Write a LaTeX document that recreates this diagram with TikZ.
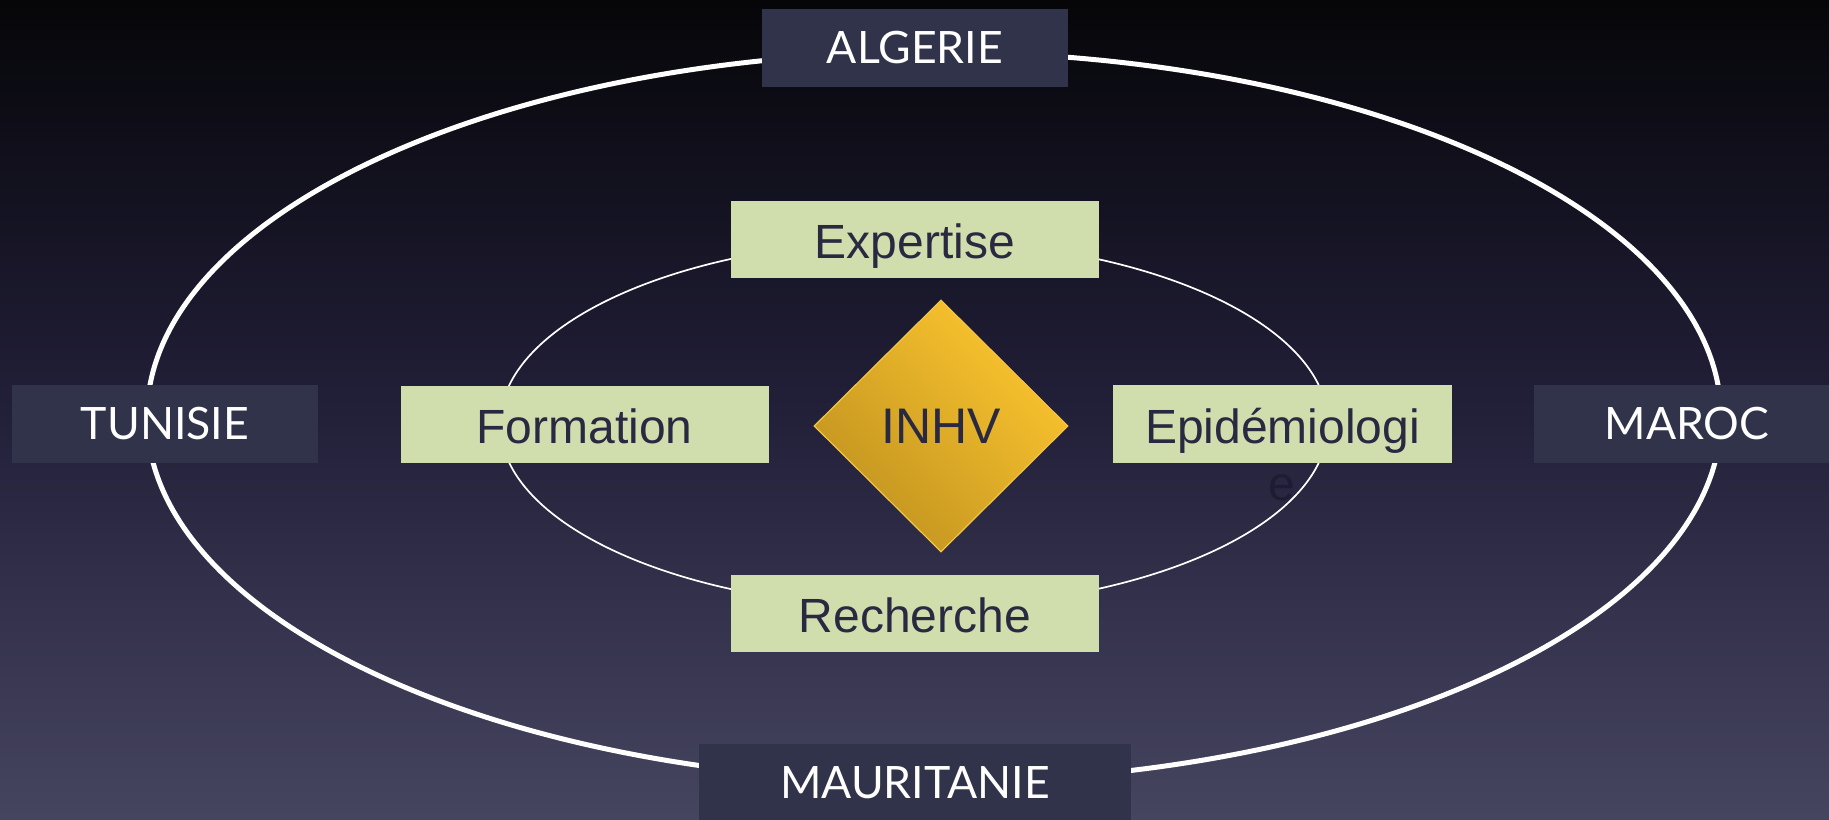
\documentclass[tikz,border=0pt]{standalone}
\usepackage{fontspec}
\setmainfont{Liberation Sans}
\newfontfamily\paysfont{Lato}
\usetikzlibrary{shapes.geometric}

\definecolor{fondhaut}{HTML}{060609}
\definecolor{fondmilieu}{HTML}{221F39}
\definecolor{fondbas}{HTML}{46455F}
\definecolor{paysbox}{HTML}{31334A}
\definecolor{axebox}{HTML}{D0DEAE}
\definecolor{axetexte}{HTML}{2A2942}
\definecolor{orclair}{HTML}{FCC52F}
\definecolor{orfonce}{HTML}{C19320}
\definecolor{orbord}{HTML}{F3C644}
\definecolor{debord}{HTML}{1E1B33}

\tikzset{
  pays/.style={fill=paysbox, text=white, font=\paysfont\fontsize{22.3}{26}\selectfont,
    minimum width=153pt, minimum height=39pt, inner sep=0pt},
  axe/.style={fill=axebox, text=axetexte, font=\fontsize{24}{28}\selectfont,
    text height=24pt, text depth=5pt,
    minimum width=184pt, minimum height=38.5pt, inner sep=0pt},
  centre/.style={diamond, draw=orbord, line width=0.6pt, top color=orclair, bottom color=orfonce,
    shading angle=-45, text=axetexte, font=\fontsize{25}{29}\selectfont,
    minimum width=127pt, minimum height=126pt, inner sep=0pt}
}

\begin{document}
\begin{tikzpicture}[x=0.5pt,y=-0.5pt]
\useasboundingbox (0,0) rectangle (1829,819);
\clip (0,0) rectangle (1829,819);
\shade[top color=fondhaut, bottom color=fondbas, middle color=fondmilieu] (0,0) rectangle (1829,819);

% les deux anneaux
\draw[white, line width=2.5pt] (934,417) ellipse [x radius=787, y radius=365];
\draw[white, line width=0.85pt] (914,424) ellipse [x radius=414, y radius=184];

% pays
\node[pays] (algerie) at (915,48) {ALGERIE};
\node[pays] (tunisie) at (165,424) {TUNISIE};
\node[pays] (maroc) at (1687,424) {MAROC};
\node[pays, minimum width=216pt] (mauritanie) at (915,783) {MAURITANIE};

% missions
\node[axe] (expertise) at (915,239.5) {Expertise};
\node[axe] (formation) at (584.5,424) {Formation};
\node[axe, minimum width=169.5pt, minimum height=39pt] (epidemio) at (1282.5,424) {Epidémiologi};
\node[text=debord, font=\fontsize{24}{28}\selectfont, inner sep=0pt] (epidemiofin) at (1282,488) {e};
\node[axe] (recherche) at (915,613) {Recherche};

\node[centre] (inhv) at (941,426) {INHV};
\end{tikzpicture}
\end{document}
